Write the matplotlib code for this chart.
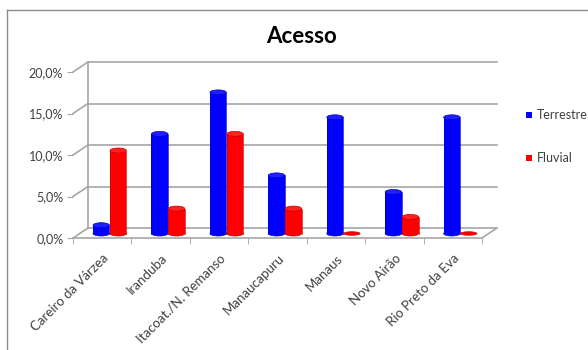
import matplotlib
matplotlib.use('Agg')
import matplotlib.pyplot as plt
import matplotlib.transforms as mtransforms
from matplotlib.patches import Ellipse, Rectangle, ConnectionPatch
from matplotlib.ticker import FuncFormatter

# dados do grafico
municipios = ['Careiro da Várzea', 'Iranduba', 'Itacoat./N. Remanso', 'Manaucapuru',
              'Manaus', 'Novo Airão', 'Rio Preto da Eva']
terrestre = [0.01, 0.12, 0.17, 0.07, 0.14, 0.05, 0.14]
fluvial = [0.10, 0.03, 0.12, 0.03, 0.0, 0.02, 0.0]
yticks = [0.0, 0.05, 0.10, 0.15, 0.20]

plt.rcParams['font.family'] = ['Lato', 'DejaVu Sans']
txt_color = '#404040'
grid_color = '#a6a6a6'

fig = plt.figure(figsize=(5.88, 3.5), dpi=100)
ax = fig.add_axes([73 / 588, 112 / 350, 409 / 588, 166 / 350])
ax.set_xlim(-0.5, len(municipios) - 0.5)
ax.set_ylim(0, 0.20)
for s in ax.spines.values():
    s.set_visible(False)

# deslocamentos de profundidade (efeito 3D)
back = ax.transData + mtransforms.ScaledTranslation(0.15, 0.10, fig.dpi_scale_trans)
mid = ax.transData + mtransforms.ScaledTranslation(0.075, 0.045, fig.dpi_scale_trans)

x0, x1 = ax.get_xlim()
# parede do fundo: linhas de grade
for t in yticks:
    ax.plot([x0, x1], [t, t], color=grid_color, lw=1.2, transform=back, clip_on=False, zorder=1)
    ax.add_artist(ConnectionPatch((x0, t), (x0, t), coordsA=ax.transData, coordsB=back,
                                  color=grid_color, lw=1.2, zorder=1))
ax.plot([x0, x0], [0, 0.20], color=grid_color, lw=1.2, transform=back, clip_on=False, zorder=1)
# piso
ax.plot([x0, x1], [0, 0], color=grid_color, lw=1.2, clip_on=False, zorder=1)
ax.add_artist(ConnectionPatch((x1, 0), (x1, 0), coordsA=ax.transData, coordsB=back,
                              color=grid_color, lw=1.2, zorder=1))

# cilindros
w = 0.28
ew = 5 / 830
series = [(terrestre, -0.145, '#0000ff', '#0000c8', '#1f1fff'),
          (fluvial, 0.145, '#ff0000', '#c80000', '#ff2020')]
for vals, dx, cor, borda, topo in series:
    for i, v in enumerate(vals):
        xc = i + dx
        if v > 0:
            ax.add_patch(Ellipse((xc, 0), w, ew, facecolor=cor, edgecolor=borda, lw=0.5,
                                 transform=mid, clip_on=False, zorder=3))
            ax.add_patch(Rectangle((xc - w / 2, 0), w, v, facecolor=cor, edgecolor='none',
                                   transform=mid, clip_on=False, zorder=3))
            ax.plot([xc - w / 2, xc - w / 2], [0, v], color=borda, lw=0.5, transform=mid,
                    clip_on=False, zorder=3)
            ax.plot([xc + w / 2, xc + w / 2], [0, v], color=borda, lw=0.5, transform=mid,
                    clip_on=False, zorder=3)
            ax.add_patch(Ellipse((xc, v), w, ew, facecolor=topo, edgecolor=borda, lw=0.5,
                                 transform=mid, clip_on=False, zorder=4))
        else:
            ax.add_patch(Ellipse((xc, v), w, ew * 0.7, facecolor=cor, edgecolor=borda, lw=0.5,
                                 transform=mid, clip_on=False, zorder=4))

# eixos
ax.set_yticks(yticks)
ax.yaxis.set_major_formatter(FuncFormatter(lambda v, p: f'{v * 100:.1f}%'.replace('.', ',')))
ax.tick_params(axis='y', length=4, color=grid_color, labelcolor=txt_color, labelsize=9, pad=3)
ax.set_xticks(range(len(municipios)))
ax.set_xticklabels(municipios, rotation=45, ha='right', va='top', rotation_mode='anchor',
                   fontsize=9.5, color=txt_color)
ax.tick_params(axis='x', which='major', length=0, pad=10)
ax.set_xticks([i - 0.5 for i in range(len(municipios) + 1)], minor=True)
ax.tick_params(axis='x', which='minor', length=4, color=grid_color)

fig.text(0.512, 0.895, 'Acesso', ha='center', va='center', fontsize=16, fontweight='bold', color='black')

# legenda
fig.patches.append(Rectangle((526 / 588, 1 - 118 / 350), 6 / 588, 6 / 350, facecolor='#0000ff',
                             transform=fig.transFigure, figure=fig))
fig.text(537 / 588, 1 - 115 / 350, 'Terrestre', va='center', fontsize=9, color=txt_color)
fig.patches.append(Rectangle((526 / 588, 1 - 161 / 350), 6 / 588, 6 / 350, facecolor='#ff0000',
                             transform=fig.transFigure, figure=fig))
fig.text(537 / 588, 1 - 158 / 350, 'Fluvial', va='center', fontsize=9, color=txt_color)

# borda do grafico
fig.add_artist(plt.Line2D([7 / 588, 7 / 588], [0, 1 - 10 / 350], color='#8c8c8c', lw=1,
                          transform=fig.transFigure))
fig.add_artist(plt.Line2D([7 / 588, 1], [1 - 10 / 350, 1 - 10 / 350], color='#8c8c8c', lw=1,
                          transform=fig.transFigure))

fig.savefig('out.png', dpi=100)
